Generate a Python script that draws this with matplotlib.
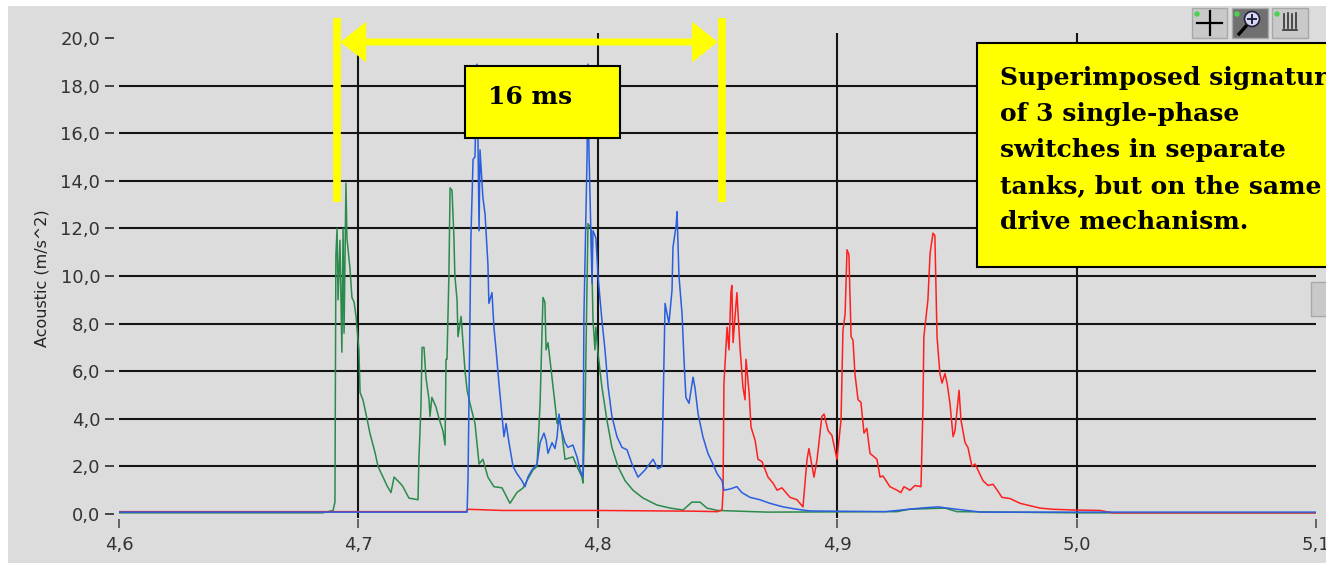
import numpy as np
import matplotlib
matplotlib.use('Agg')
import matplotlib.pyplot as plt
from matplotlib.patches import Rectangle, FancyArrowPatch, Ellipse

# --- data: (time s, acoustic m/s^2) ---
green_trace = [
    (4.6000, 0.05), (4.6850, 0.05), (4.6894, 0.15), (4.6902, 0.5), (4.6906, 10.9),
    (4.6911, 12.0), (4.6915, 9.0), (4.6923, 11.5), (4.6931, 6.8), (4.6936, 12.0),
    (4.6940, 7.6), (4.6948, 13.9), (4.6952, 11.6), (4.6965, 10.3), (4.6973, 9.1),
    (4.6982, 8.9), (4.6990, 8.3), (4.7002, 6.9), (4.7007, 5.1), (4.7019, 4.8),
    (4.7036, 4.0), (4.7048, 3.4), (4.7069, 2.6), (4.7082, 2.0), (4.7103, 1.55),
    (4.7119, 1.2), (4.7136, 0.9), (4.7149, 1.55), (4.7174, 1.3), (4.7186, 1.15),
    (4.7211, 0.67), (4.7249, 0.6), (4.7253, 2.4), (4.7261, 4.4), (4.7266, 7.0),
    (4.7274, 7.0), (4.7282, 5.75), (4.7295, 4.8), (4.7299, 4.1), (4.7307, 4.9),
    (4.7324, 4.5), (4.7337, 4.0), (4.7353, 3.5), (4.7362, 2.9), (4.7366, 6.5),
    (4.7370, 6.5), (4.7378, 10.0), (4.7383, 13.7), (4.7391, 13.6), (4.7399, 11.6),
    (4.7403, 10.0), (4.7412, 9.0), (4.7416, 7.45), (4.7429, 8.3), (4.7437, 7.2),
    (4.7445, 6.05), (4.7454, 5.2), (4.7466, 4.65), (4.7487, 3.8), (4.7504, 2.1),
    (4.7520, 2.3), (4.7541, 1.55), (4.7566, 1.15), (4.7600, 1.1), (4.7633, 0.45),
    (4.7662, 0.9), (4.7688, 1.1), (4.7704, 1.4), (4.7729, 1.85), (4.7746, 2.0),
    (4.7759, 4.65), (4.7771, 9.1), (4.7779, 8.9), (4.7784, 6.9), (4.7792, 7.2),
    (4.7800, 6.5), (4.7821, 4.65), (4.7830, 3.8), (4.7838, 4.1), (4.7850, 3.4),
    (4.7863, 2.3), (4.7896, 2.4), (4.7913, 2.0), (4.7934, 1.55), (4.7938, 1.3),
    (4.7947, 4.5), (4.7959, 12.2), (4.7972, 12.0), (4.7980, 8.15), (4.7988, 6.9),
    (4.7992, 7.85), (4.8001, 6.75), (4.8017, 5.35), (4.8038, 3.95), (4.8059, 2.8),
    (4.8084, 2.0), (4.8114, 1.4), (4.8147, 1.0), (4.8189, 0.67), (4.8247, 0.38),
    (4.8302, 0.25), (4.8356, 0.17), (4.8393, 0.5), (4.8427, 0.5), (4.8456, 0.25),
    (4.8500, 0.15), (4.8707, 0.08), (4.9250, 0.1), (4.9300, 0.2), (4.9450, 0.25),
    (4.9500, 0.1), (5.0000, 0.05), (5.1000, 0.05),
]

blue_trace = [
    (4.6000, 0.08), (4.7454, 0.08), (4.7458, 1.55), (4.7470, 11.6), (4.7479, 14.9),
    (4.7487, 15.0), (4.7495, 18.9), (4.7500, 15.3), (4.7504, 11.9), (4.7508, 15.3),
    (4.7520, 13.3), (4.7529, 12.6), (4.7541, 10.5), (4.7545, 8.85), (4.7558, 9.3),
    (4.7566, 7.85), (4.7575, 6.9), (4.7587, 5.5), (4.7600, 4.1), (4.7608, 3.25),
    (4.7617, 3.8), (4.7629, 3.0), (4.7646, 2.0), (4.7662, 1.7), (4.7683, 1.4),
    (4.7696, 1.15), (4.7708, 1.55), (4.7725, 1.85), (4.7746, 2.1), (4.7759, 3.0),
    (4.7775, 3.4), (4.7784, 3.1), (4.7792, 2.55), (4.7809, 3.0), (4.7821, 2.75),
    (4.7830, 3.25), (4.7838, 4.2), (4.7846, 3.6), (4.7863, 3.0), (4.7875, 2.8),
    (4.7896, 2.9), (4.7913, 2.4), (4.7926, 1.85), (4.7938, 1.55), (4.7942, 8.3),
    (4.7955, 14.9), (4.7959, 18.9), (4.7963, 15.3), (4.7976, 9.7), (4.7980, 11.9),
    (4.7992, 11.6), (4.8001, 10.0), (4.8017, 8.15), (4.8030, 6.9), (4.8043, 5.35),
    (4.8059, 4.1), (4.8080, 3.25), (4.8101, 2.8), (4.8122, 2.7), (4.8143, 2.1),
    (4.8168, 1.55), (4.8197, 1.85), (4.8231, 2.3), (4.8251, 1.9), (4.8268, 2.0),
    (4.8281, 8.85), (4.8297, 8.0), (4.8310, 9.4), (4.8314, 11.2), (4.8327, 12.1),
    (4.8331, 12.7), (4.8339, 10.0), (4.8352, 8.4), (4.8360, 6.5), (4.8368, 4.9),
    (4.8381, 4.65), (4.8398, 5.75), (4.8406, 5.3), (4.8419, 4.2), (4.8439, 3.25),
    (4.8460, 2.55), (4.8481, 2.1), (4.8498, 1.7), (4.8519, 1.4), (4.8527, 1.0),
    (4.8552, 1.05), (4.8581, 1.15), (4.8602, 0.9), (4.8636, 0.7), (4.8677, 0.6),
    (4.8719, 0.45), (4.8774, 0.3), (4.8832, 0.2), (4.8886, 0.13), (4.9200, 0.1),
    (4.9350, 0.25), (4.9420, 0.3), (4.9500, 0.2), (4.9600, 0.08), (5.1000, 0.08),
]

red_trace = [
    (4.6000, 0.1), (4.7450, 0.1), (4.7458, 0.2), (4.7600, 0.15), (4.8000, 0.15),
    (4.8400, 0.12), (4.8500, 0.1), (4.8519, 0.17), (4.8523, 0.9), (4.8527, 5.5),
    (4.8540, 7.85), (4.8548, 6.9), (4.8556, 9.3), (4.8560, 9.6), (4.8565, 7.2),
    (4.8581, 9.3), (4.8594, 7.0), (4.8606, 5.35), (4.8615, 4.8), (4.8619, 6.5),
    (4.8632, 5.1), (4.8640, 3.65), (4.8657, 3.1), (4.8669, 2.3), (4.8686, 2.2),
    (4.8711, 1.55), (4.8732, 1.3), (4.8749, 1.0), (4.8769, 1.1), (4.8803, 0.7),
    (4.8832, 0.6), (4.8857, 0.3), (4.8874, 2.3), (4.8882, 2.75), (4.8903, 1.55),
    (4.8916, 2.3), (4.8936, 4.1), (4.8945, 4.2), (4.8962, 3.5), (4.8978, 3.3),
    (4.8999, 2.3), (4.9016, 3.95), (4.9024, 7.7), (4.9033, 8.4), (4.9041, 11.1),
    (4.9049, 10.9), (4.9058, 7.45), (4.9066, 7.3), (4.9074, 5.9), (4.9087, 4.8),
    (4.9099, 4.7), (4.9112, 3.4), (4.9124, 3.6), (4.9137, 2.55), (4.9166, 2.3),
    (4.9179, 1.55), (4.9191, 1.6), (4.9220, 1.15), (4.9250, 1.0), (4.9266, 0.9),
    (4.9279, 1.15), (4.9304, 1.0), (4.9325, 1.2), (4.9350, 1.15), (4.9358, 4.4),
    (4.9362, 7.45), (4.9379, 9.0), (4.9388, 10.95), (4.9400, 11.8), (4.9408, 11.7),
    (4.9417, 7.45), (4.9429, 5.9), (4.9438, 5.5), (4.9450, 5.9), (4.9459, 5.5),
    (4.9471, 4.65), (4.9484, 3.25), (4.9492, 3.5), (4.9509, 5.2), (4.9517, 3.95),
    (4.9534, 3.0), (4.9546, 2.8), (4.9563, 2.0), (4.9576, 2.1), (4.9609, 1.4),
    (4.9630, 1.2), (4.9651, 1.25), (4.9672, 0.95), (4.9688, 0.7), (4.9722, 0.65),
    (4.9764, 0.45), (4.9805, 0.35), (4.9847, 0.25), (4.9901, 0.2), (4.9985, 0.17),
    (5.0098, 0.15), (5.0150, 0.05), (5.1000, 0.05),
]

x_ticks = [4.6, 4.7, 4.8, 4.9, 5.0, 5.1]
y_ticks = [0, 2, 4, 6, 8, 10, 12, 14, 16, 18, 20]
y_label = 'Acoustic (m/s^2)'
span_label = '16 ms'
note_lines = ['Superimposed signature', 'of 3 single-phase',
              'switches in separate', 'tanks, but on the same',
              'drive mechanism.']

# --- styling ---
W, H = 1326, 563
BG = '#dcdcdc'
YELLOW = '#ffff00'
TXT = '#333333'


def fx(px):
    return px / W


def fy(py):
    return 1 - py / H


def comma(v):
    return f'{v:.1f}'.replace('.', ',')


fig = plt.figure(figsize=(W / 100, H / 100), dpi=100, facecolor='white')
fig.patches.append(Rectangle((fx(8), 0), 1, fy(6), transform=fig.transFigure,
                             facecolor=BG, edgecolor='none', zorder=-10))

ax = fig.add_axes([fx(119), fy(517.6), 1197 / W, 484.4 / H])
ax.set_facecolor(BG)
ax.set_xlim(x_ticks[0], x_ticks[-1])
ax.set_ylim(-0.15, 20.2)
for s in ax.spines.values():
    s.set_visible(False)
ax.spines['left'].set_position(('outward', 3.5))
ax.spines['bottom'].set_position(('outward', 1))

# grid (LabVIEW style, no lines on the outer ticks)
for v in y_ticks[1:-1]:
    ax.axhline(v, color='#151515', lw=1.5, zorder=1)
for t in x_ticks[1:-1]:
    ax.axvline(t, color='#151515', lw=1.5, zorder=1)

# traces
for trace, col, z in [(green_trace, '#2b8a4c', 2), (red_trace, '#ff1f1f', 3),
                      (blue_trace, '#2a5ee0', 4)]:
    arr = np.array(trace)
    ax.plot(arr[:, 0], arr[:, 1], color=col, lw=1.1, zorder=z)

ax.set_xticks(x_ticks)
ax.set_xticklabels([comma(t) for t in x_ticks])
ax.set_yticks(y_ticks)
ax.set_yticklabels([comma(v) for v in y_ticks])
ax.tick_params(axis='y', direction='out', length=6.5, width=1.4, color='#444444',
               pad=3.5, labelsize=13, labelcolor=TXT)
ax.tick_params(axis='x', direction='out', length=6.5, width=1.1, color='#444444',
               pad=6, labelsize=13, labelcolor=TXT)
fig.text(fx(42), fy(278), y_label, rotation=90, ha='center', va='center',
         fontsize=11.5, color='#222222')

# --- yellow 16 ms marker ---
bar_l, bar_r = 4.6909, 4.8517
for t in (bar_l, bar_r):
    ax.plot([t, t], [13.1, 20.84], color=YELLOW, lw=5.5, solid_capstyle='butt',
            clip_on=False, zorder=6)
arrow = FancyArrowPatch((bar_l + 0.0016, 19.83), (bar_r - 0.0016, 19.83),
                        arrowstyle='<|-|>,head_length=12,head_width=9.5',
                        mutation_scale=1, lw=5, color=YELLOW, shrinkA=0, shrinkB=0,
                        joinstyle='miter', clip_on=False, zorder=6)
ax.add_patch(arrow)

ax.add_patch(Rectangle((4.7445, 15.8), 0.0648, 3.02, facecolor=YELLOW,
                       edgecolor='black', lw=1.5, zorder=7))
ax.text(4.7541, 17.23, span_label, family='DejaVu Serif', weight='bold',
        fontsize=18, va='baseline', ha='left', zorder=8)

ax.add_patch(Rectangle((4.9584, 10.38), 0.3, 9.41, facecolor=YELLOW,
                       edgecolor='black', lw=1.5, clip_on=False, zorder=7))
for i, line in enumerate(note_lines):
    ax.annotate(line, xy=(4.968, 18.03), xytext=(0, -26 * i),
                textcoords='offset points', family='DejaVu Serif',
                weight='bold', fontsize=18, va='baseline', ha='left',
                annotation_clip=False, zorder=8)

# --- graph palette buttons (top right) ---
for x0, x1, fc in [(1192, 1227, '#c9c9c9'), (1232, 1268, '#707070'),
                   (1272, 1308, '#c9c9c9')]:
    fig.patches.append(Rectangle((fx(x0), fy(38)), fx(x1 - x0), 30 / H,
                                 transform=fig.transFigure, facecolor=fc,
                                 edgecolor='#a8a8a8', lw=1, zorder=5))
icon_z = 9
fig.add_artist(plt.Line2D([fx(1197), fx(1222)], [fy(23), fy(23)], color='black',
                          lw=1.6, transform=fig.transFigure, zorder=icon_z))
fig.add_artist(plt.Line2D([fx(1210), fx(1210)], [fy(11), fy(35)], color='black',
                          lw=1.6, transform=fig.transFigure, zorder=icon_z))
for gx in (1197, 1237, 1277):
    fig.patches.append(Ellipse((fx(gx), fy(14)), 4 / W, 4 / H,
                               transform=fig.transFigure, color='#4cd24c',
                               zorder=icon_z))
fig.add_artist(plt.Line2D([fx(1239), fx(1247)], [fy(34), fy(25)], color='black',
                          lw=2.4, transform=fig.transFigure, zorder=icon_z))
fig.patches.append(Ellipse((fx(1252), fy(19)), 15 / W, 15 / H,
                           transform=fig.transFigure, facecolor='#d8d8f0',
                           edgecolor='#202040', lw=1.2, zorder=icon_z))
fig.add_artist(plt.Line2D([fx(1248), fx(1256)], [fy(19), fy(19)], color='#202040',
                          lw=1.4, transform=fig.transFigure, zorder=icon_z + 1))
fig.add_artist(plt.Line2D([fx(1252), fx(1252)], [fy(15), fy(23)], color='#202040',
                          lw=1.4, transform=fig.transFigure, zorder=icon_z + 1))
for k in range(4):
    fig.add_artist(plt.Line2D([fx(1284 + 4 * k), fx(1284 + 4 * k)],
                              [fy(28), fy(14 - (k % 2))], color='#333333', lw=1.2,
                              transform=fig.transFigure, zorder=icon_z))
fig.add_artist(plt.Line2D([fx(1283), fx(1297)], [fy(30), fy(30)], color='#333333',
                          lw=1.2, transform=fig.transFigure, zorder=icon_z))
fig.patches.append(Rectangle((fx(1311), fy(316)), fx(20), 34 / H,
                             transform=fig.transFigure, facecolor='#c9c9c9',
                             edgecolor='#a8a8a8', lw=1))

fig.savefig('out.png', dpi=100, facecolor=fig.get_facecolor())
